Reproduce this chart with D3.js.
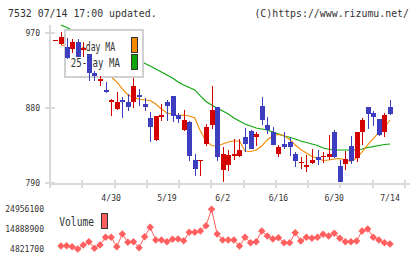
<!DOCTYPE html>
<html>
<head>
<meta charset="utf-8">
<script src="https://cdn.jsdelivr.net/npm/d3@7"></script>
<style>
body { margin: 0; background: #fff; }
svg { display: block; }
text { font-family: "DejaVu Sans Mono", monospace; fill: #333; }
</style>
</head>
<body>
<div id="chart"></div>
<script>
// daily prices, 61 sessions ending 7/14
var openP  = [961.5,957,954,951,960,950,945,922,913,902,888,879,890,887,887,896,885,868,842,870,887,895,872,854,863,818,816.5,837,860,882,806,812,823,823,845,853,845,883,860,851,825,837,840,825,814,810,814,821,821,821,851,811,813,835,820,851,881,874,867,851,882];
var closeP = [962,965,940,960,942,952,922,919,915,900,890,887,887,882,907,893,882,857,871,871.5,883,871,867,866,823,807,818,858,878,822,825,824,825,830,837,831,849,866,854,836,834,834,834,817,816,812,818,818,823,825,822,792,819,817,851,866,873,869,848,872,873];
var highP  = [962.5,972,964,963,963,959,945,925,919,912,891,900,894,897,916,903,892,875,871,885,890,895,874,878,865,825,818,861,907,882,833,830,843,843,856,854,851,894,869,857,836,851,844,828,821,824,831,830,828,848,854,818,829,847,851,868,881,877,867,874,890];
var lowP   = [961,956,939,946,941,941,913,913,907,898,871,878,868,877,880,883,877,840,841,865,865,864,862,853,817,799,799,835,855,817,792,805,818,821,827,831,835,860,849,836,821,831,823,810,807,804,813,812,814,818,820,792,806,813,815,836,855,859,847,845,872];

var ma5  = [null,956,954.2,953.6,952.4,950,945.2,938,930.8,923.6,917.6,911.6,903.2,896,893.2,891.2,890,889.4,885.2,879.2,874.4,872.6,871.4,872,870.8,868.4,852.8,840.8,835.4,834.8,837.2,839.6,840.8,840.8,828.8,828.2,830,834.8,842,847.4,848.6,847.4,842.6,836,830.6,826.4,822.2,820,817.4,818,819.2,819.8,818,816.2,820.4,827.6,836,843.8,850.4,857,866];
var ma25 = [null,980,977,974,971,968,965,962,959,956,953,950,946.4,942.8,939.2,936.2,934,930.8,927.2,923.6,920,916.4,911.6,908,905,902,894.8,888.2,884,880.4,876.8,873.2,868.4,864.8,861.2,858.8,856.4,855.2,854,851.6,849.2,846.8,845.2,843.2,840.8,839,837.2,835.4,832.4,830.8,830,830,830,830,830,831.2,833,834,835.4,836.6,837.2];

var volume = [null,6480000,6630000,6130000,4970000,6990000,8650000,5330000,6990000,10860000,10860000,6130000,12520000,8350000,8650000,5630000,11160000,15900000,9500000,9500000,8650000,9850000,10000000,9150000,13380000,13380000,14030000,16700000,24956100,12520000,9500000,9500000,9500000,6480000,10860000,8140000,8650000,14030000,11520000,10000000,10660000,8140000,8140000,13180000,9000000,10860000,10360000,10860000,12370000,11520000,12880000,10360000,8650000,8650000,9000000,14030000,15040000,10860000,9500000,8140000,7490000];

var priceTicks = [790, 880, 970];
var volTicks = [4821700, 14888900, 24956100];
var dateLabels = ["4/30", "5/19", "6/2", "6/16", "6/30", "7/14"];
var dateIdx = [10, 20, 30, 40, 50, 60];

var W = 420, H = 259;
var upColor = "#d40000", downColor = "#3d3dbf";
var ma5Color = "#f08a00", ma25Color = "#0aa50a", volColor = "#ff5f5f";
var gridColor = "#d9d9d9";

var svg = d3.select("#chart").append("svg")
    .attr("width", W)
    .attr("height", H);

var x = d3.scaleLinear().domain([0, 60]).range([55.4, 390]);
var y = d3.scaleLinear().domain([790, 970]).range([183.3, 33.3]);
var yv = d3.scaleLinear().domain([4821700, 24956100]).range([249.3, 209.3]);
var gx = d3.scaleLinear().domain([0, 11]).range([50, 405]);

function fitText(sel, charW) {
    sel.attr("textLength", function () { return this.textContent.length * charW; })
        .attr("lengthAdjust", "spacingAndGlyphs");
}

// header
svg.append("text").attr("x", 8).attr("y", 16.5)
    .style("font-size", "9.9px").text("7532 07/14 17:00 updated.");
svg.append("text").attr("x", 409).attr("y", 16.5)
    .attr("text-anchor", "end")
    .style("font-size", "9.9px").text("(C)https://www.rizumu.net/");

// axes
var axes = svg.append("g").attr("shape-rendering", "crispEdges")
    .attr("stroke", gridColor).attr("stroke-width", 1.5);
axes.append("line").attr("x1", 50).attr("x2", 50).attr("y1", 25).attr("y2", 184);
axes.append("line").attr("x1", 50).attr("x2", 410).attr("y1", 184).attr("y2", 184);
axes.selectAll(".ytick").data(priceTicks).enter().append("line")
    .attr("x1", 45).attr("x2", 55)
    .attr("y1", function (d) { return Math.round(y(d)); })
    .attr("y2", function (d) { return Math.round(y(d)); });
axes.selectAll(".xtick").data(d3.range(12)).enter().append("line")
    .attr("x1", function (d) { return Math.round(gx(d)); })
    .attr("x2", function (d) { return Math.round(gx(d)); })
    .attr("y1", 180).attr("y2", 188);

svg.selectAll(".plabel").data(priceTicks).enter().append("text")
    .attr("x", 40).attr("y", function (d) { return y(d) + 3; })
    .attr("text-anchor", "end").style("font-size", "8.5px")
    .text(function (d) { return d; })
    .call(fitText, 4.85);

svg.selectAll(".vlabel").data(volTicks).enter().append("text")
    .attr("x", 44).attr("y", function (d) { return yv(d) + 3; })
    .attr("text-anchor", "end").style("font-size", "8.5px")
    .text(function (d) { return d; })
    .call(fitText, 4.85);

svg.selectAll(".dlabel").data(dateLabels).enter().append("text")
    .attr("x", function (d, i) { return x(dateIdx[i]); })
    .attr("y", 200.5)
    .attr("text-anchor", "middle").style("font-size", "8.5px")
    .text(function (d) { return d; })
    .call(fitText, 4.9);

// moving averages
var maLine = d3.line()
    .defined(function (d) { return d != null; })
    .x(function (d, i) { return x(i); })
    .y(function (d) { return y(d); });

svg.append("path").datum(ma25).attr("d", maLine)
    .attr("fill", "none").attr("stroke", ma25Color).attr("stroke-width", 1.1);
svg.append("path").datum(ma5).attr("d", maLine)
    .attr("fill", "none").attr("stroke", ma5Color).attr("stroke-width", 1.1);

// legend box (candles sit on top of it)
var leg = svg.append("g");
leg.append("rect").attr("x", 65).attr("y", 30).attr("width", 78).attr("height", 47)
    .attr("fill", "#fff").attr("stroke", "#d0d0d0").attr("stroke-width", 1.5)
    .attr("shape-rendering", "crispEdges");
leg.append("text").attr("x", 76).attr("y", 50.5).style("font-size", "12px")
    .attr("textLength", 39).attr("lengthAdjust", "spacingAndGlyphs").text("5-day MA");
leg.append("text").attr("x", 70.7).attr("y", 66.5).style("font-size", "12px")
    .attr("textLength", 49.3).attr("lengthAdjust", "spacingAndGlyphs").text("25-day MA");
leg.append("rect").attr("x", 131).attr("y", 37.5).attr("width", 6).attr("height", 14.5)
    .attr("fill", ma5Color).attr("stroke", "#333").attr("stroke-width", 1)
    .attr("shape-rendering", "crispEdges");
leg.append("rect").attr("x", 131).attr("y", 54.5).attr("width", 6).attr("height", 14.5)
    .attr("fill", ma25Color).attr("stroke", "#333").attr("stroke-width", 1)
    .attr("shape-rendering", "crispEdges");

// candles
var candles = svg.append("g").attr("shape-rendering", "crispEdges")
    .selectAll("g").data(openP).enter().append("g")
    .attr("fill", function (d, i) { return closeP[i] >= openP[i] ? upColor : downColor; })
    .attr("stroke", function (d, i) { return closeP[i] >= openP[i] ? upColor : downColor; });

candles.append("line")
    .attr("x1", function (d, i) { return Math.round(x(i)) + 0.5; })
    .attr("x2", function (d, i) { return Math.round(x(i)) + 0.5; })
    .attr("y1", function (d, i) { return y(highP[i]); })
    .attr("y2", function (d, i) { return y(lowP[i]); })
    .attr("stroke-width", 1);

candles.append("rect")
    .attr("x", function (d, i) { return Math.round(x(i)) - 2; })
    .attr("width", 5)
    .attr("y", function (d, i) { return y(Math.max(openP[i], closeP[i])); })
    .attr("height", function (d, i) {
        return Math.max(1.5, Math.abs(y(openP[i]) - y(closeP[i])));
    })
    .attr("stroke", "none");

// volume
var volLine = d3.line()
    .defined(function (d) { return d != null; })
    .x(function (d, i) { return x(i); })
    .y(function (d) { return yv(d); });

svg.append("path").datum(volume).attr("d", volLine)
    .attr("fill", "none").attr("stroke", volColor).attr("stroke-width", 1);

var volPts = volume.map(function (v, i) { return { v: v, i: i }; })
    .filter(function (d) { return d.v != null; });

svg.selectAll(".vdot").data(volPts).enter().append("path")
    .attr("class", "vdot")
    .attr("d", d3.symbol().type(d3.symbolSquare).size(28))
    .attr("transform", function (d) {
        return "translate(" + x(d.i) + "," + yv(d.v) + ") rotate(45)";
    })
    .attr("fill", volColor);

svg.append("text").attr("x", 59.3).attr("y", 226).style("font-size", "12px")
    .attr("textLength", 34.7).attr("lengthAdjust", "spacingAndGlyphs").text("Volume");
svg.append("rect").attr("x", 101.5).attr("y", 213.5).attr("width", 6).attr("height", 14.5)
    .attr("fill", volColor).attr("stroke", "#333").attr("stroke-width", 1)
    .attr("shape-rendering", "crispEdges");
</script>
</body>
</html>
